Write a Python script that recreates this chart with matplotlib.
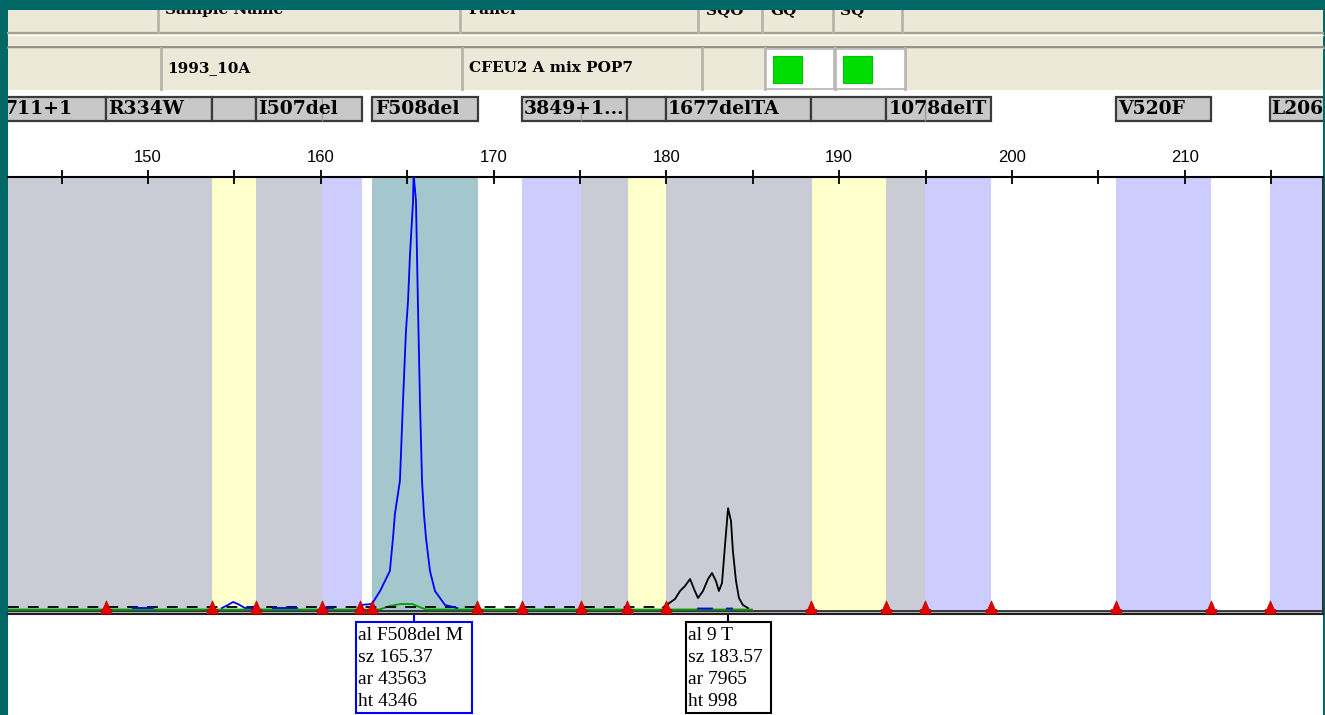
import matplotlib
matplotlib.use("Agg")
import matplotlib.pyplot as plt
import numpy as np
from matplotlib.patches import Rectangle
from matplotlib.path import Path
from matplotlib.ticker import MultipleLocator, FuncFormatter

nan = np.nan

# ---------------- data ----------------
x_limits = (141.9, 218.0)
y_limits = (-60, 4310)

header_titles = ["Sample Name", "Panel", "SQO", "GQ", "SQ"]
sample_name = "1993_10A"
panel_name = "CFEU2 A mix POP7"

bin_starts = [141.9, 153.70, 156.25, 160.07, 162.96, 171.64, 175.06, 177.78, 179.98,
              188.43, 192.71, 194.97, 206.02, 214.93]
bin_ends = [153.70, 156.25, 160.07, 162.38, 169.10, 175.06, 177.78, 179.98, 188.43,
            192.71, 194.97, 198.78, 211.52, 218.0]
bin_kinds = ["gray", "yellow", "gray", "lav", "teal", "lav", "gray", "yellow", "gray",
             "yellow", "gray", "lav", "lav", "lav"]

edge_marks = [147.57, 153.70, 156.25, 160.07, 162.27, 162.96, 169.04, 171.64, 175.06,
              177.72, 179.98, 188.37, 192.71, 194.97, 198.78, 206.02, 211.52, 214.93]

label_names = ["711+1", "R334W", "", "I507del", "F508del", "3849+1...", "", "1677delTA",
               "", "1078delT", "V520F", "L206"]
label_starts = [141.0, 147.57, 153.70, 156.25, 162.96, 171.64, 177.72, 179.98,
                188.37, 192.71, 206.02, 214.93]
label_ends = [147.57, 153.70, 156.25, 162.38, 169.10, 177.72, 179.98, 188.37,
              192.71, 198.78, 211.52, 219.5]
label_text_x = [141.67, 147.70, None, 156.40, 163.15, 171.75, None, 180.10,
                None, 192.85, 206.15, 215.02]
label_dividers = [160.07, 175.06, 194.97]

blue_x = [149.13, 150.29, nan, 154.28, 154.63, 154.92, 155.21, 155.61, 156.25, nan,
          157.23, 158.62, nan, 160.07, 160.71, nan,
          162.27, 162.96, 163.43, 164.00, 164.18, 164.29, 164.58, 164.76, 164.93, 165.05,
          165.16, 165.34, 165.37, 165.51, 165.57, 165.62, 165.74, 165.86, 165.97, 166.09,
          166.32, 166.61, 167.19, 167.9, nan, 181.83, 182.64, nan, 183.51, 183.80]
blue_y = [0, 0, nan, 0, 30, 60, 40, 0, 0, nan,
          0, 0, nan, 0, 0, nan,
          30, 40, 170, 370, 700, 940, 1270, 2070, 2770, 3070,
          3520, 4070, 4346, 4070, 3520, 3070, 2070, 1270, 940, 700,
          370, 170, 30, 0, nan, -5, -5, nan, -5, -5]

green_x = [141.9, 163.4, 164.0, 164.6, 165.3, 165.7, 166.1, 184.95]
green_y = [-15, -15, 20, 40, 40, 10, -15, -15]

black_base_x = [141.9, 179.9]
black_base_y = [10, 10]
black_x = [179.8, 180.09, 180.50, 180.79, 181.08, 181.37, 181.60, 181.83, 182.12, 182.41,
           182.64, 182.87, 183.04, 183.22, 183.39, 183.57, 183.74, 183.85, 184.03, 184.20,
           184.43, 184.72]
black_y = [5, 40, 90, 170, 220, 290, 190, 100, 170, 290,
           350, 270, 170, 250, 620, 998, 870, 570, 270, 100,
           30, 0]

peak_alleles = ["F508del M", "9 T"]
peak_sizes = [165.37, 183.57]
peak_areas = [43563, 7965]
peak_heights = [4346, 998]

# ---------------- styles ----------------
W, H = 1325, 715
TEAL = "#006666"
BEIGE = "#ECE9D8"
bin_colors = {"gray": "#CBCBD6", "yellow": "#FFFFCC", "lav": "#CCCCFF", "teal": "#A3C7CD"}
peak_box_colors = ["#0000FF", "#000000"]
peak_box_widths = [116, 85]

fig = plt.figure(figsize=(W / 100, H / 100), dpi=100)
fig.patch.set_facecolor(TEAL)

bg = fig.add_axes([0, 0, 1, 1])
bg.set_xlim(0, W)
bg.set_ylim(H, 0)
bg.axis("off")
bg.set_zorder(0)


def rect(x0, y0, x1, y1, **kw):
    bg.add_patch(Rectangle((x0, y0), x1 - x0, y1 - y0, **kw))


# header
rect(8, 0, 1323, 90, fc=BEIGE, ec="none", zorder=1)
rect(8, 90, 1323, 715, fc="white", ec="none", zorder=1)
bg.plot([8, 1323], [33, 33], color="#A5A294", lw=1.6, zorder=2)
bg.plot([8, 1323], [34.6, 34.6], color="white", lw=1.0, zorder=2)
bg.plot([8, 1323], [46.5, 46.5], color="#8F8C7F", lw=2.0, zorder=2)
bg.plot([8, 1323], [47.8, 47.8], color="#D8D5C8", lw=0.8, zorder=2)
for xd in [158, 460, 698, 762, 833, 902]:
    bg.plot([xd, xd], [10, 32], color="#B8B5A8", lw=2, zorder=2)
for xd in [161, 462, 702, 765, 835, 905]:
    bg.plot([xd, xd], [48, 89], color="#B8B5A8", lw=2, zorder=2)
rect(766, 49, 834, 89, fc="white", ec="#B8B8B8", lw=1.2, zorder=3)
rect(836, 49, 905, 89, fc="white", ec="#B8B8B8", lw=1.2, zorder=3)
rect(773, 56, 802, 83, fc="#00DD00", ec="#00C400", lw=0.8, zorder=4)
rect(843, 56, 872, 83, fc="#00DD00", ec="#00C400", lw=0.8, zorder=4)
for t, xt in zip(header_titles, [165, 468, 706, 770, 840]):
    bg.text(xt, 14, t, ha="left", va="baseline", family="DejaVu Serif",
            weight="bold", size=11, zorder=5)
bg.text(167, 68, sample_name, ha="left", va="center", family="DejaVu Serif",
        weight="bold", size=11, zorder=5)
bg.text(469, 68, panel_name, ha="left", va="center", family="DejaVu Serif",
        weight="bold", size=11, zorder=5)
rect(0, 0, W, 10, fc=TEAL, ec="none", zorder=10)

# ---------------- main plot ----------------
ax = fig.add_axes([8 / W, (H - 614) / H, 1315 / W, 437 / H])
ax.set_zorder(2)
ax.set_xlim(*x_limits)
ax.set_ylim(*y_limits)
ax.set_facecolor("white")

for s, e, k in zip(bin_starts, bin_ends, bin_kinds):
    ax.axvspan(s, e, color=bin_colors[k], lw=0, zorder=0)

ax.axhspan(-60, -30, color="#B4B4B4", lw=0, zorder=1)
ax.axhline(-30, color="#202020", lw=1.2, zorder=1)

ax.plot(green_x, green_y, color="#00A000", lw=1.3, zorder=3)
ax.plot(black_base_x, black_base_y, color="black", lw=1.3, ls=(0, (6, 5)), zorder=3)
ax.plot(blue_x, blue_y, color="#0000FF", lw=1.3, zorder=4)
ax.plot(black_x, black_y, color="black", lw=1.3, zorder=4)

marker_path = Path([(-0.4, -0.5), (0.4, -0.5), (0.4, -0.15), (0.28, -0.15), (0.0, 0.5),
                    (-0.28, -0.15), (-0.4, -0.15), (-0.4, -0.5)])
ax.plot(edge_marks, [15] * len(edge_marks), ls="none", marker=marker_path,
        markersize=9.5, markerfacecolor="#E80000", markeredgecolor="#B00000",
        markeredgewidth=0.5, zorder=5, clip_on=False)

ax.xaxis.set_ticks_position("top")
ax.xaxis.set_major_locator(MultipleLocator(10))
ax.xaxis.set_minor_locator(MultipleLocator(5))
ax.xaxis.set_major_formatter(FuncFormatter(lambda v, p: f"{int(round(v))}"))
ax.tick_params(axis="x", which="both", direction="inout", length=10, width=1.3,
               color="black", top=True, bottom=False, labeltop=True, labelbottom=False)
ax.tick_params(axis="x", which="major", pad=3.5, labelsize=12)
for lbl in ax.get_xticklabels():
    lbl.set_family("Liberation Sans")
ax.set_yticks([])
ax.spines["left"].set_visible(False)
ax.spines["top"].set_linewidth(1.5)
ax.spines["right"].set_linewidth(1.5)
ax.spines["right"].set_color("#333333")
ax.spines["bottom"].set_linewidth(1.5)
ax.spines["bottom"].set_color("#202020")

# ---------------- bin label strip ----------------
lab = fig.add_axes([8 / W, (H - 123) / H, 1315 / W, 28 / H])
lab.set_zorder(2)
lab.set_xlim(*x_limits)
lab.set_ylim(0, 28)
lab.axis("off")
for name, s, e, tx in zip(label_names, label_starts, label_ends, label_text_x):
    lab.add_patch(Rectangle((s, 2), e - s, 24, fc="#C8C8C8", ec="#3A3A3A", lw=1.6))
    if name:
        lab.text(tx, 13.5, name, ha="left", va="center", family="DejaVu Serif",
                 weight="bold", size=13.5, clip_on=True)
for d in label_dividers:
    lab.plot([d, d], [3, 25], color="#9C9C9C", lw=1.0)

# ---------------- peak label boxes ----------------
for al, sz, ar, ht, c, w in zip(peak_alleles, peak_sizes, peak_areas, peak_heights,
                                peak_box_colors, peak_box_widths):
    px = ax.transData.transform((sz, 0))[0]
    bg.plot([px, px], [614, 622], color=c, lw=1.5, zorder=3)
    rect(px - w / 2, 622, px + w / 2, 713, fc="white", ec=c, lw=1.5, zorder=3)
    lines = [f"al {al}", f"sz {sz:.2f}", f"ar {ar}", f"ht {ht}"]
    for i, line in enumerate(lines):
        bg.text(px - w / 2 + 2, 636 + 22 * i, line, ha="left", va="center",
                family="Liberation Serif", size=14, zorder=4)

fig.savefig("out.png", dpi=100, facecolor=fig.get_facecolor())
